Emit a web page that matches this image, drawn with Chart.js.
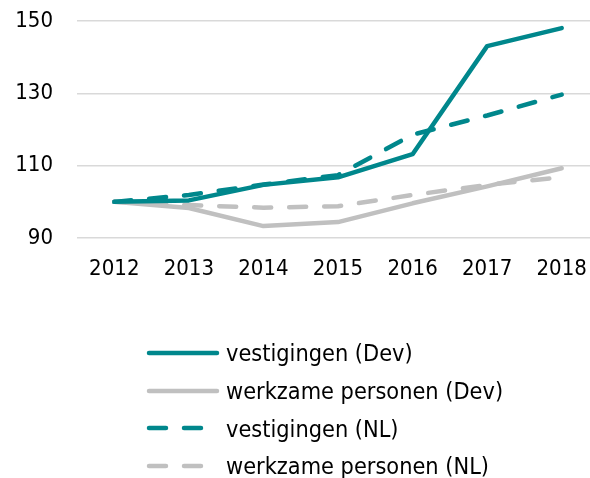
<!DOCTYPE html>
<html lang="nl">
<head>
  <meta charset="UTF-8">
  <title>Vestigingen en werkzame personen</title>
  <script src="https://cdn.jsdelivr.net/npm/chart.js"></script>
  <style>
    html, body {
      margin: 0;
      padding: 0;
      background: #fff;
      overflow: hidden;
    }
    /* shifted up a little so the plot area starts near the top edge */
    .chart-box {
      position: absolute;
      left: 0;
      top: -16px;
      width: 620px;
      height: 316px;
    }
    /* legend is stacked vertically below the plot */
    #legend {
      position: absolute;
      left: 146px;
      top: 334px;
      font-family: "DejaVu Sans Condensed", "DejaVu Sans", sans-serif;
      font-size: 23.3px;
      color: #000;
    }
    .legend-item {
      display: flex;
      align-items: center;
      height: 37.7px;
    }
    .legend-item canvas {
      margin-right: 6px;
    }
  </style>
</head>
<body>
  <div class="chart-box">
    <canvas id="chart" width="620" height="316"></canvas>
  </div>
  <div id="legend"></div>

  <script>
    const years = ['2012', '2013', '2014', '2015', '2016', '2017', '2018'];

    const vestigingenDev = [100, 100.4, 104.7, 106.8, 113.2, 143.1, 148.1];
    const werkzameDev = [100, 98.3, 93.3, 94.4, 99.6, 104.3, 109.3];
    const vestigingenNL = [100, 101.9, 104.8, 107.4, 118.6, 123.9, 129.7];
    const werkzameNL = [100, 99.1, 98.4, 98.8, 101.9, 104.7, 106.8];

    const yTicks = [90, 110, 130, 150];

    const teal = '#00878C';
    const grey = '#C0C0C0';
    const fontFamily = '"DejaVu Sans Condensed", "DejaVu Sans", sans-serif';

    function series(label, data, color, dashed) {
      return {
        label: label,
        data: data,
        borderColor: color,
        backgroundColor: color,
        borderWidth: 4.5,
        borderDash: dashed ? [17, 18] : [],
        borderCapStyle: 'round',
        borderJoinStyle: 'round',
        pointRadius: 0,
        pointHoverRadius: 0,
        tension: 0,
        fill: false
      };
    }

    const ctx = document.getElementById('chart').getContext('2d');

    const chart = new Chart(ctx, {
      type: 'line',
      data: {
        labels: years,
        datasets: [
          series('vestigingen (Dev)', vestigingenDev, teal, false),
          series('werkzame personen (Dev)', werkzameDev, grey, false),
          series('vestigingen (NL)', vestigingenNL, teal, true),
          series('werkzame personen (NL)', werkzameNL, grey, true)
        ]
      },
      options: {
        responsive: false,
        animation: false,
        layout: {
          padding: { top: 0, right: 21, bottom: 0, left: 0 }
        },
        plugins: {
          legend: { display: false },
          tooltip: { enabled: false }
        },
        scales: {
          x: {
            offset: true,
            grid: { display: false, drawTicks: false },
            border: { display: false },
            afterFit: scale => {
              scale.height = 62;
            },
            ticks: {
              color: '#000',
              padding: 18,
              maxRotation: 0,
              font: { family: fontFamily, size: 22 }
            }
          },
          y: {
            min: 90,
            max: 150,
            afterBuildTicks: scale => {
              scale.ticks = yTicks.map(v => ({ value: v }));
            },
            afterFit: scale => {
              scale.width = 77;
            },
            grid: {
              color: '#D9D9D9',
              lineWidth: 1.5,
              drawTicks: false
            },
            border: { display: false },
            ticks: {
              color: '#000',
              padding: 24,
              font: { family: fontFamily, size: 22 }
            }
          }
        }
      }
    });

    // vertical legend built from the datasets
    const legend = document.getElementById('legend');
    chart.data.datasets.forEach(ds => {
      const item = document.createElement('div');
      item.className = 'legend-item';
      const sample = document.createElement('canvas');
      sample.width = 74;
      sample.height = 12;
      const c = sample.getContext('2d');
      c.strokeStyle = ds.borderColor;
      c.lineWidth = ds.borderWidth;
      c.lineCap = 'round';
      c.setLineDash(ds.borderDash);
      c.beginPath();
      c.moveTo(3, 6);
      c.lineTo(ds.borderDash.length ? 66 : 71, 6);
      c.stroke();
      const text = document.createElement('span');
      text.textContent = ds.label;
      item.appendChild(sample);
      item.appendChild(text);
      legend.appendChild(item);
    });
  </script>
</body>
</html>
